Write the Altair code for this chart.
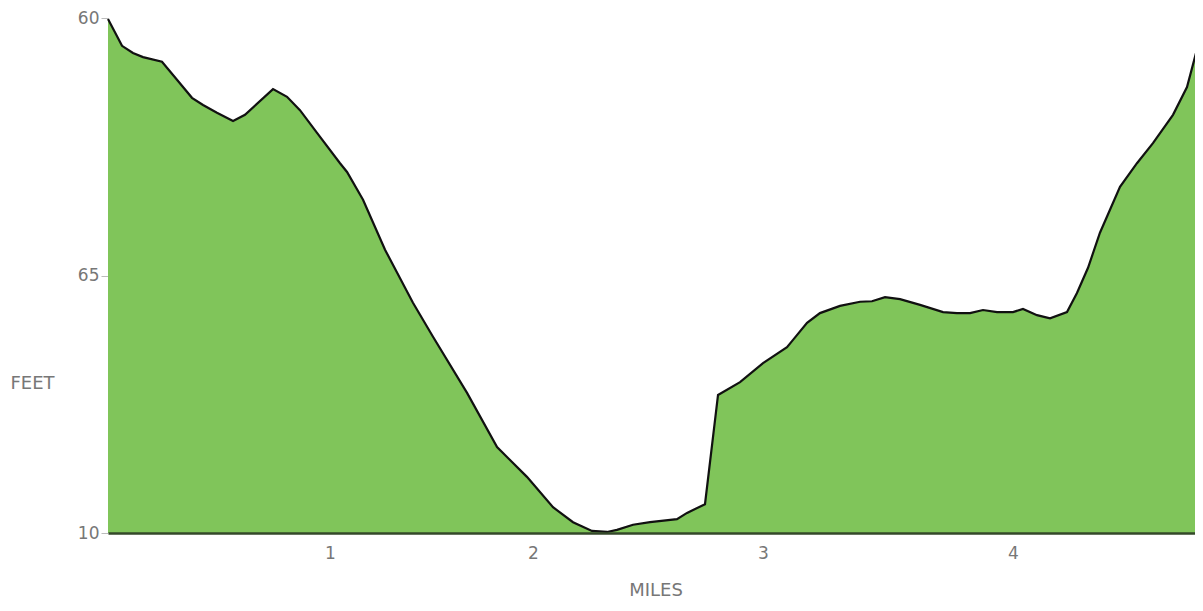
import altair as alt
import pandas as pd

# position along the route (0-100, arbitrary route units) and elevation (0-100 of axis range)
dist = [0, 1.28, 2.28, 3.20, 4.93, 6.30, 7.67, 8.68, 9.95, 11.42, 12.51, 15.07, 16.35, 17.53,
        19.09, 21.19, 21.83, 23.29, 25.30, 27.85, 29.68, 32.79, 35.53, 38.26, 40.64, 42.47,
        44.20, 45.57, 46.48, 47.95, 49.50, 51.96, 52.88, 54.52, 55.71, 57.72, 59.82, 62.01,
        62.56, 63.84, 65.02, 66.85, 68.68, 69.77, 70.96, 72.33, 74.16, 76.26, 77.53, 78.72,
        79.91, 81.19, 82.65, 83.56, 84.84, 86.03, 87.58, 88.49, 89.50, 90.59, 92.42, 93.97,
        95.43, 97.26, 98.54, 100]
elev = [99.8, 94.6, 93.2, 92.4, 91.5, 88.0, 84.5, 83.1, 81.6, 80.0, 81.2, 86.2, 84.7, 82.1,
        77.7, 71.8, 70.1, 64.7, 55.0, 44.7, 38.1, 27.2, 16.7, 10.9, 5.0, 2.1,
        0.4, 0.2, 0.6, 1.6, 2.1, 2.7, 3.9, 5.6, 26.8, 29.3, 33.0, 36.1,
        37.5, 40.8, 42.7, 44.1, 44.9, 45.0, 45.8, 45.4, 44.3, 42.9, 42.7, 42.7,
        43.3, 42.9, 42.9, 43.5, 42.3, 41.7, 42.9, 46.6, 51.5, 58.3, 67.2, 71.8,
        75.7, 81.2, 86.6, 98.3]

# axis ticks: positions and labels as printed on the reference
x_tick_pos = [20.27, 38.81, 59.82, 82.65]
x_tick_labels = ["1", "2", "3", "4"]
y_tick_pos = [0, 50, 100]
y_tick_labels = ["10", "65", "60"]

df = pd.DataFrame({"dist": dist, "elev": elev})

def label_expr(pos, labels):
    parts = []
    for p, l in zip(pos, labels):
        parts.append(f"abs(datum.value - {p}) < 0.01 ? '{l}'")
    return " : ".join(parts) + " : ''"

FONT = "DejaVu Sans"
GRAY = "#777777"

x_enc = alt.X("dist:Q", scale=alt.Scale(domain=[0, 100], nice=False, zero=False),
              axis=alt.Axis(values=x_tick_pos, labelExpr=label_expr(x_tick_pos, x_tick_labels),
                            title="MILES", grid=False, ticks=False, domain=True,
                            domainColor="#34482a", domainWidth=2.5, zindex=1,
                            labelFont=FONT, labelFontSize=17, labelColor=GRAY, labelPadding=12,
                            titleFont=FONT, titleFontSize=18, titleColor=GRAY,
                            titleFontWeight="normal", titleY=57, titleBaseline="middle"))
y_enc = alt.Y("elev:Q", scale=alt.Scale(domain=[0, 100], nice=False, zero=False),
              axis=alt.Axis(values=y_tick_pos, labelExpr=label_expr(y_tick_pos, y_tick_labels),
                            title="FEET", grid=False, domain=False, tickColor="#bbbbbb",
                            tickSize=7, labelPadding=2,
                            labelFont=FONT, labelFontSize=17, labelColor=GRAY,
                            titleFont=FONT, titleFontSize=18, titleColor=GRAY,
                            titleFontWeight="normal", titleAngle=0, titleAlign="left",
                            titleBaseline="middle", titleX=-98, titleY=365))

area = alt.Chart(df).mark_area(color="#80c55a", opacity=1,
                               line={"color": "#111111", "strokeWidth": 2.2},
                               interpolate="linear").encode(x=x_enc, y=y_enc)

chart = area.properties(
    width=1095, height=515,
    autosize=alt.AutoSizeParams(type="none"),
    padding={"left": 100, "top": 10, "right": -8, "bottom": 66},
    background="white",
).configure_view(strokeWidth=0, stroke="transparent")

chart.save("out.html", embed_options={"renderer": "svg", "actions": False})
